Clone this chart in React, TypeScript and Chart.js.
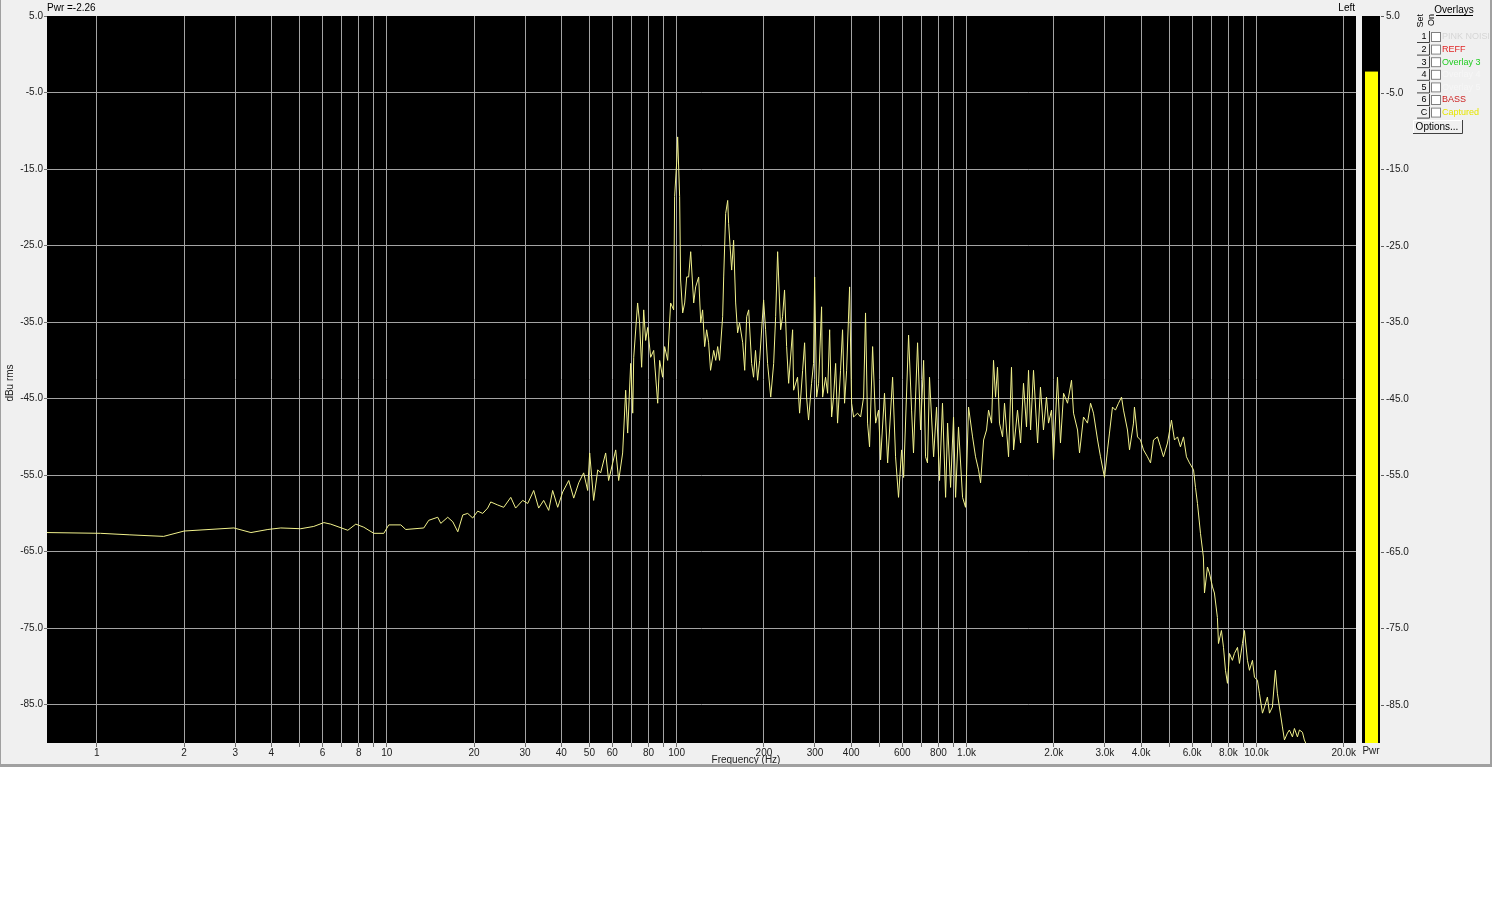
import React, { useEffect, useRef } from 'react';
import { Chart, registerables } from 'chart.js';

Chart.register(...registerables);

const FONT = '"Liberation Sans", Arial, sans-serif';

// Spectrum trace, [frequency Hz, level dBu rms]
const subBand: [number, number][] = [
  [0.673, -62.5], [1.03, -62.6], [1.3, -62.8], [1.7, -63.0], [2.0, -62.3], [2.97, -61.9], [3.4, -62.5],
  [3.89, -62.1], [4.31, -61.9], [5.05, -62.0], [5.6, -61.7], [6.07, -61.2], [6.41, -61.4], [7.34, -62.2],
  [7.82, -61.4], [8.33, -61.8], [9.02, -62.6], [9.77, -62.6], [10.16, -61.5], [11.18, -61.5], [11.63, -62.1],
  [13.42, -61.9], [13.96, -60.9], [14.99, -60.5], [15.36, -61.3], [16.23, -60.5], [16.9, -61.1], [17.58, -62.4],
  [18.29, -60.2], [19.02, -60.0], [19.79, -60.6], [20.59, -59.7], [21.43, -60.0], [22.29, -59.3], [22.84, -58.5],
  [24.15, -58.9], [25.32, -59.2], [26.78, -57.9], [27.83, -59.3], [29.44, -58.3], [30.64, -58.7], [32.13, -57.0],
  [33.42, -59.3], [34.78, -58.3], [36.19, -59.6], [37.35, -57.0], [38.88, -59.2], [40.45, -57.2], [42.44, -55.7],
  [44.15, -58.0], [45.94, -56.0], [47.78, -54.7], [49.33, -57.0], [50.12, -52.1], [51.72, -58.3], [53.43, -54.3],
];

const bassBand: [number, number][] = [
  [54.68, -54.7], [56.9, -52.1], [58.26, -55.7], [61.62, -51.7], [63.1, -55.7], [65.12, -52.1], [66.7, -43.9],
  [67.77, -49.5], [69.41, -40.4], [70.55, -46.9], [71.11, -39.6], [73.34, -32.5], [74.52, -35.1], [75.72, -40.9],
  [76.97, -33.4], [78.18, -37.4], [79.43, -35.7], [81.34, -39.6], [83.32, -38.7], [86.02, -45.6], [87.37, -40.0],
  [89.45, -42.2], [90.91, -38.2], [93.11, -40.0], [95.33, -32.5], [97.66, -33.4], [98.4, -18.6], [100.0, -14.2],
  [100.8, -10.8], [102.4, -18.6], [103.2, -29.5], [104.9, -33.8], [106.6, -32.5], [108.3, -29.1], [110.0, -29.1],
  [111.8, -25.8], [114.5, -32.5], [116.3, -30.4], [119.1, -29.1], [121.1, -35.1], [122.9, -33.4], [124.9, -38.2],
  [126.9, -36.0], [128.9, -37.7], [130.9, -41.3], [134.2, -38.7], [136.4, -40.0], [138.5, -38.2], [140.6, -40.0],
  [144.1, -34.3], [145.3, -29.1], [147.6, -20.8], [150.0, -19.1], [151.1, -22.1], [154.8, -28.2], [157.2, -24.3],
  [159.8, -32.5], [162.3, -36.4], [164.8, -35.1], [169.0, -37.7], [171.7, -41.3], [174.4, -34.3], [177.2, -33.4],
  [181.4, -40.4], [184.2, -42.2], [187.1, -38.7], [190.2, -42.6], [193.3, -40.0], [199.5, -32.1], [202.7, -36.0],
  [205.9, -40.4], [211.1, -44.8], [216.1, -40.4], [219.5, -34.3], [223.0, -25.8], [228.4, -36.0], [231.9, -34.3],
  [235.6, -30.8], [239.5, -38.2], [243.4, -43.0], [251.2, -36.0], [253.2, -43.9], [261.2, -42.2], [265.5, -46.9],
  [272.0, -41.3], [276.3, -37.7], [280.6, -44.8], [285.1, -47.8], [292.0, -43.0], [296.6, -40.4], [299.2, -29.1],
  [304.0, -44.8], [308.8, -43.0], [316.2, -33.0], [318.8, -44.8], [326.3, -42.2], [331.7, -44.3], [337.1, -36.0],
  [342.4, -47.4], [347.8, -44.8], [353.5, -40.4], [359.0, -48.2], [367.6, -41.3], [373.5, -36.0], [379.5, -45.6],
  [385.8, -41.3], [395.0, -30.4],
];

const midBand: [number, number][] = [
  [401.3, -45.6], [407.7, -47.4], [420.8, -46.9], [431.1, -47.4], [441.5, -44.8], [448.3, -33.8], [455.6, -48.2],
  [462.8, -51.3], [474.2, -38.2], [485.7, -48.2], [497.2, -46.5], [505.2, -53.0], [521.2, -44.3], [534.3, -53.4],
  [555.8, -42.2], [569.0, -52.6], [582.6, -57.9], [597.0, -51.7], [606.7, -55.3], [631.0, -36.7], [646.2, -46.5],
  [656.2, -52.1], [677.7, -37.7], [694.1, -49.1], [711.1, -40.0], [722.1, -52.6], [733.4, -53.4], [745.1, -42.2],
  [769.7, -52.6], [788.0, -46.1], [806.9, -55.7], [826.1, -45.6], [846.7, -57.9], [860.2, -48.2], [880.9, -56.6],
  [901.7, -47.4], [916.6, -57.9], [938.1, -48.7], [968.9, -57.9], [992, -59.2], [1016, -46.1], [1049, -50.0],
  [1074, -52.6], [1100, -54.3], [1118, -56.0], [1145, -50.4], [1172, -49.1], [1191, -46.5], [1220, -48.2],
  [1239, -40.0], [1259, -44.8], [1279, -40.9], [1299, -48.2], [1331, -50.0], [1352, -45.6], [1396, -52.6],
  [1429, -40.9], [1453, -51.7], [1499, -46.5], [1536, -50.8], [1572, -43.0], [1610, -48.7], [1636, -41.3],
  [1663, -49.1], [1702, -41.3], [1758, -50.8], [1799, -43.5], [1842, -49.1], [1887, -44.8], [1918, -48.2],
  [1964, -46.5], [1995, -53.0], [2059, -42.2], [2109, -50.8], [2161, -44.3], [2230, -45.6], [2302, -42.6],
  [2339, -46.9], [2415, -49.1], [2453, -52.1], [2532, -47.4], [2613, -48.2],
];

const highBand: [number, number][] = [
  [2678, -45.6], [2741, -46.9], [2831, -50.4], [2898, -52.6], [2991, -55.3], [3064, -51.7], [3112, -49.5],
  [3187, -46.1], [3263, -46.5], [3343, -45.6], [3424, -44.8], [3479, -46.5], [3590, -49.1], [3649, -51.7],
  [3766, -48.2], [3795, -46.1], [3888, -50.0], [3981, -50.4], [4077, -51.7], [4208, -52.6], [4312, -53.4],
  [4415, -50.4], [4556, -50.0], [4667, -51.3], [4778, -52.6], [4933, -50.8], [5092, -47.8], [5215, -50.4],
  [5343, -50.0], [5468, -51.3], [5603, -50.0], [5736, -52.6], [5875, -53.4], [6067, -54.3], [6162, -56.6],
  [6260, -58.7], [6411, -62.6], [6562, -65.7], [6619, -70.4], [6777, -67.0], [6884, -67.8], [7054, -69.6],
  [7162, -70.4], [7334, -73.6], [7396, -77.0], [7572, -75.3], [7697, -77.5], [7818, -80.5], [7943, -82.2],
  [8071, -78.3], [8261, -79.2], [8396, -78.3], [8602, -77.5], [8737, -79.6], [8945, -77.0], [9091, -75.3],
  [9311, -79.2], [9461, -80.5], [9690, -79.2], [9843, -81.4], [10080, -81.8], [10240, -83.5], [10490, -86.1],
  [10660, -85.3], [10910, -84.0], [11090, -86.1], [11350, -85.3], [11620, -80.5], [11810, -83.5], [12000, -85.3],
  [12290, -87.9], [12490, -89.6], [12790, -88.7], [12990, -88.3], [13310, -89.2], [13520, -88.1], [13850, -89.2],
  [14070, -88.3], [14410, -88.6], [14630, -89.6], [14990, -90.5], [15350, -92.0],
];

const xGridHz = [
  1, 2, 3, 4, 5, 6, 7, 8, 9,
  10, 20, 30, 40, 50, 60, 70, 80, 90,
  100, 200, 300, 400, 500, 600, 700, 800, 900,
  1000, 2000, 3000, 4000, 5000, 6000, 7000, 8000, 9000,
  10000, 20000,
];
const xLabelHz = [1, 2, 3, 4, 6, 8, 10, 20, 30, 40, 50, 60, 80, 100, 200, 300, 400, 600, 800, 1000, 2000, 3000, 4000, 6000, 8000, 10000, 20000];
const xLabelText = ['1', '2', '3', '4', '6', '8', '10', '20', '30', '40', '50', '60', '80', '100', '200', '300', '400', '600', '800', '1.0k', '2.0k', '3.0k', '4.0k', '6.0k', '8.0k', '10.0k', '20.0k'];
const yTicks = [5, -5, -15, -25, -35, -45, -55, -65, -75, -85];
const pwrLevel = -2.26;

const overlayRows = [
  { set: '1', name: 'PINK NOISE', color: '#d6d6d6' },
  { set: '2', name: 'REFF', color: '#e02424' },
  { set: '3', name: 'Overlay 3', color: '#22cc22' },
  { set: '4', name: 'Overlay 4', color: '#f6f6f6' },
  { set: '5', name: 'Overlay 5', color: '#f6f6f6' },
  { set: '6', name: 'BASS', color: '#cc2020' },
  { set: 'C', name: 'Captured', color: '#e6e600' },
];

const extras = {
  id: 'extras',
  beforeDraw(chart: any) {
    const { ctx, chartArea: a } = chart;
    ctx.save();
    ctx.fillStyle = '#000000';
    ctx.fillRect(a.left, a.top, a.right - a.left, a.bottom - a.top);
    ctx.restore();
  },
  afterDraw(chart: any) {
    const { ctx, chartArea: a } = chart;
    const ys = chart.scales.y;
    ctx.save();
    ctx.font = `10px ${FONT}`;
    ctx.fillStyle = '#000';
    ctx.textBaseline = 'middle';
    ctx.textAlign = 'left';
    ctx.fillText(`Pwr =${pwrLevel.toFixed(2)}`, a.left, 8);
    ctx.textAlign = 'right';
    ctx.fillText('Left', a.right - 1, 8);

    // axis titles
    ctx.textAlign = 'center';
    ctx.fillStyle = '#202020';
    ctx.fillText('Frequency (Hz)', 746, 760);
    ctx.save();
    ctx.translate(10, 383);
    ctx.rotate(-Math.PI / 2);
    ctx.fillText('dBu rms', 0, 0);
    ctx.restore();

    // meter
    const mx = 1362;
    ctx.fillStyle = '#000';
    ctx.fillRect(mx, a.top, 18, a.bottom - a.top);
    const py = ys.getPixelForValue(pwrLevel);
    ctx.fillStyle = '#ffff00';
    ctx.fillRect(mx + 3, py, 13, a.bottom - py);
    ctx.strokeStyle = '#606060';
    ctx.lineWidth = 1;
    ctx.fillStyle = '#202020';
    ctx.textAlign = 'left';
    yTicks.forEach((t) => {
      const y = Math.round(ys.getPixelForValue(t)) + 0.5;
      ctx.beginPath();
      ctx.moveTo(1381, y);
      ctx.lineTo(1384, y);
      ctx.stroke();
      ctx.fillText(t.toFixed(1), 1386, y);
    });
    ctx.textAlign = 'center';
    ctx.fillText('Pwr', 1371, 751);

    // overlays panel
    ctx.fillStyle = '#000';
    ctx.font = `10px ${FONT}`;
    ctx.fillText('Overlays', 1454, 10);
    ctx.strokeStyle = '#000';
    ctx.beginPath();
    ctx.moveTo(1436, 15.5);
    ctx.lineTo(1473, 15.5);
    ctx.stroke();

    ctx.font = `9px ${FONT}`;
    ctx.textAlign = 'right';
    ctx.save();
    ctx.translate(1421, 14);
    ctx.rotate(-Math.PI / 2);
    ctx.fillText('Set', 0, 0);
    ctx.restore();
    ctx.save();
    ctx.translate(1432, 14);
    ctx.rotate(-Math.PI / 2);
    ctx.fillText('On', 0, 0);
    ctx.restore();

    ctx.save();
    ctx.beginPath();
    ctx.rect(1400, 0, 89, 767);
    ctx.clip();
    overlayRows.forEach((r, i) => {
      const cy = 37 + i * 12.6;
      // set button
      ctx.fillStyle = '#f0f0f0';
      ctx.fillRect(1417, cy - 6, 12, 11);
      ctx.strokeStyle = '#404040';
      ctx.beginPath();
      ctx.moveTo(1417, cy + 5.5);
      ctx.lineTo(1429.5, cy + 5.5);
      ctx.lineTo(1429.5, cy - 6);
      ctx.stroke();
      ctx.fillStyle = '#000';
      ctx.textAlign = 'center';
      ctx.font = `9px ${FONT}`;
      ctx.fillText(r.set, 1424, cy);
      // checkbox
      ctx.fillStyle = '#ffffff';
      ctx.fillRect(1431, cy - 5, 10, 10);
      ctx.strokeStyle = '#808080';
      ctx.strokeRect(1431.5, cy - 4.5, 9, 9);
      // name
      ctx.fillStyle = r.color;
      ctx.textAlign = 'left';
      ctx.fillText(r.name, 1442, cy);
    });
    ctx.restore();

    // options button
    ctx.fillStyle = '#f0f0f0';
    ctx.fillRect(1413, 120, 49, 13);
    ctx.strokeStyle = '#ffffff';
    ctx.beginPath();
    ctx.moveTo(1413.5, 133);
    ctx.lineTo(1413.5, 120.5);
    ctx.lineTo(1462, 120.5);
    ctx.stroke();
    ctx.strokeStyle = '#404040';
    ctx.beginPath();
    ctx.moveTo(1413, 133.5);
    ctx.lineTo(1462.5, 133.5);
    ctx.lineTo(1462.5, 120);
    ctx.stroke();
    ctx.fillStyle = '#000';
    ctx.textAlign = 'center';
    ctx.font = `10px ${FONT}`;
    ctx.fillText('Options...', 1437, 127);

    // frame
    ctx.fillStyle = '#a0a0a0';
    ctx.fillRect(0, 0, 1, 767);
    ctx.fillRect(1490, 0, 2, 767);
    ctx.fillRect(0, 764, 1492, 3);
    ctx.restore();
  },
};

export default function App() {
  const ref = useRef<HTMLCanvasElement | null>(null);

  useEffect(() => {
    const canvas = ref.current;
    if (!canvas) return;
    const points = [...subBand, ...bassBand, ...midBand, ...highBand].map(([x, y]) => ({ x, y }));
    const chart = new Chart(canvas, {
      type: 'line',
      data: {
        datasets: [
          {
            data: points,
            borderColor: '#f2f28c',
            borderWidth: 1,
            pointRadius: 0,
            tension: 0,
            fill: false,
          },
        ],
      },
      options: {
        animation: false,
        responsive: false,
        maintainAspectRatio: false,
        layout: { padding: { top: 16, right: 136, left: 0, bottom: 0 } },
        plugins: { legend: { display: false }, tooltip: { enabled: false } },
        scales: {
          x: {
            type: 'logarithmic',
            min: 0.673,
            max: 22050,
            bounds: 'data',
            afterBuildTicks: (s: any) => {
              s.ticks = xGridHz.map((v) => ({ value: v }));
            },
            afterFit: (s: any) => {
              s.height = 24;
            },
            ticks: {
              autoSkip: false,
              maxRotation: 0,
              minRotation: 0,
              padding: 0,
              color: '#202020',
              font: { family: FONT, size: 10 },
              callback: (v: any) => {
                const i = xLabelHz.indexOf(Number(v));
                return i >= 0 ? xLabelText[i] : '';
              },
            },
            grid: { color: '#a4a4a4', lineWidth: 1, tickLength: 4, tickColor: '#707070' },
            border: { display: false },
          },
          y: {
            type: 'linear',
            min: -90,
            max: 5,
            bounds: 'data',
            afterBuildTicks: (s: any) => {
              s.ticks = [...yTicks].reverse().map((v) => ({ value: v }));
            },
            afterFit: (s: any) => {
              s.width = 47;
            },
            ticks: {
              padding: 1,
              color: '#202020',
              font: { family: FONT, size: 10 },
              callback: (v: any) => Number(v).toFixed(1),
            },
            grid: {
              color: (c: any) => (c.tick && c.tick.value === 5 ? 'rgba(0,0,0,0)' : '#a4a4a4'),
              lineWidth: 1,
              tickLength: 3,
              tickColor: '#707070',
            },
            border: { display: false },
          },
        },
      },
      plugins: [extras],
    } as any);
    return () => chart.destroy();
  }, []);

  return (
    <div style={{ position: 'absolute', left: 0, top: 0, width: 1492, height: 767, background: '#f0f0f0' }}>
      <canvas ref={ref} width={1492} height={767} style={{ display: 'block', width: 1492, height: 767 }} />
    </div>
  );
}
